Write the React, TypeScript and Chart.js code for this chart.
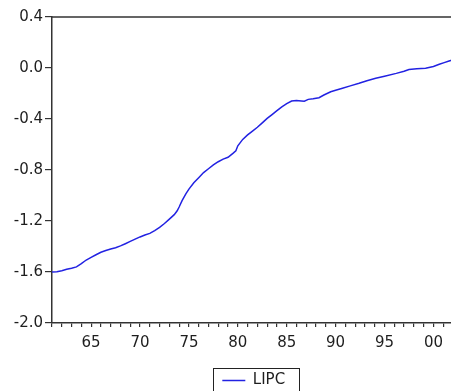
import React, { useEffect, useRef } from 'react';
import { Chart, registerables } from 'chart.js';

Chart.register(...registerables);

// Time (fractional year) of each observation
const years: number[] = [
  1961.0, 1961.5, 1962.0, 1962.5, 1963.0, 1963.5, 1964.0, 1964.5, 1965.0, 1965.5,
  1966.0, 1966.5, 1967.0, 1967.5, 1968.0, 1968.5, 1969.0, 1969.5, 1970.0, 1970.5,
  1971.0, 1971.5, 1972.0, 1972.5, 1973.0, 1973.5, 1973.8, 1974.0, 1974.3, 1974.7,
  1975.0, 1975.5, 1976.0, 1976.5, 1977.0, 1977.5, 1978.0, 1978.5, 1979.0, 1979.5,
  1979.8, 1980.0, 1980.5, 1981.0, 1981.5, 1982.0, 1982.5, 1983.0, 1983.5, 1984.0,
  1984.5, 1985.0, 1985.5, 1986.0, 1986.5, 1986.8, 1987.2, 1987.7, 1988.3, 1988.8,
  1989.5, 1990.0, 1990.7, 1991.5, 1992.4, 1993.2, 1994.1, 1995.0, 1996.2, 1997.0,
  1997.5, 1998.3, 1999.2, 2000.0, 2000.6, 2001.1, 2001.6, 2002.2,
];

// LIPC values
const lipc: number[] = [
  -1.600, -1.598, -1.590, -1.578, -1.570, -1.560, -1.535, -1.506, -1.485, -1.465,
  -1.445, -1.432, -1.420, -1.410, -1.395, -1.378, -1.360, -1.342, -1.325, -1.310,
  -1.297, -1.275, -1.250, -1.220, -1.185, -1.150, -1.120, -1.090, -1.040, -0.985,
  -0.950, -0.900, -0.860, -0.820, -0.790, -0.760, -0.735, -0.715, -0.700, -0.670,
  -0.650, -0.610, -0.560, -0.525, -0.495, -0.465, -0.430, -0.395, -0.365, -0.335,
  -0.305, -0.280, -0.259, -0.255, -0.258, -0.260, -0.246, -0.242, -0.233, -0.212,
  -0.186, -0.175, -0.159, -0.140, -0.120, -0.100, -0.081, -0.065, -0.042, -0.025,
  -0.012, -0.005, -0.002, 0.012, 0.029, 0.042, 0.055, 0.068,
];

const seriesName = 'LIPC';
const yTicks: number[] = [0.4, 0.0, -0.4, -0.8, -1.2, -1.6, -2.0];
const xTickYears: number[] = Array.from({ length: 2002 - 1961 + 1 }, (_, i) => 1961 + i);
const xMin = 1961;
const xMax = 2002.25;

const FONT = 'DejaVu Sans';
const AXIS_COLOR = '#333333';
const TEXT_COLOR = '#1e1e1e';
const LINE_COLOR = 'rgb(34, 34, 226)';

const framePlugin = {
  id: 'evFrame',
  afterDraw(chart: any) {
    const { ctx, chartArea } = chart;
    const { left, right, top, bottom } = chartArea;
    ctx.save();
    ctx.strokeStyle = AXIS_COLOR;
    ctx.lineWidth = 1.5;
    ctx.beginPath();
    ctx.moveTo(left, top);
    ctx.lineTo(right, top);
    ctx.lineTo(right, bottom);
    ctx.stroke();
    const lg = chart.legend;
    if (lg && lg.legendHitBoxes && lg.legendHitBoxes.length) {
      const hb = lg.legendHitBoxes[0];
      ctx.lineWidth = 1;
      ctx.strokeStyle = '#222';
      const l = Math.round(hb.left - 9) + 0.5;
      const t = Math.round(hb.top - 5) + 0.5;
      const r = Math.round(hb.left + hb.width + 14) + 0.5;
      const b = Math.round(hb.top + hb.height + 9) + 0.5;
      ctx.strokeRect(l, t, r - l, b - t);
    }
    ctx.restore();
  },
};

export default function App() {
  const canvasRef = useRef<HTMLCanvasElement | null>(null);

  useEffect(() => {
    document.body.style.margin = '0';
    document.body.style.overflow = 'hidden';
    const canvas = canvasRef.current;
    if (!canvas) return;
    const chart = new Chart(canvas, {
      type: 'line',
      data: {
        datasets: [
          {
            label: seriesName,
            data: years.map((x, i) => ({ x, y: lipc[i] })),
            borderColor: LINE_COLOR,
            backgroundColor: LINE_COLOR,
            borderWidth: 1.5,
            pointRadius: 0,
            tension: 0,
            fill: false,
          },
        ],
      },
      options: {
        animation: false,
        responsive: false,
        maintainAspectRatio: false,
        layout: { padding: { top: 17, left: 0, right: 3, bottom: 0 } },
        plugins: {
          tooltip: { enabled: false },
          legend: {
            display: true,
            position: 'bottom',
            fullSize: false,
            labels: {
              usePointStyle: true,
              pointStyle: 'line',
              pointStyleWidth: 23,
              padding: 14,
              color: TEXT_COLOR,
              font: { family: FONT, size: 15 },
            },
          },
        },
        scales: {
          x: {
            type: 'linear',
            min: xMin,
            max: xMax,
            afterBuildTicks: (s: any) => {
              s.ticks = xTickYears.map((v) => ({ value: v }));
            },
            afterFit: (s: any) => {
              s.height = 36;
            },
            ticks: {
              autoSkip: false,
              maxRotation: 0,
              padding: 7,
              color: TEXT_COLOR,
              font: { family: FONT, size: 15 },
              callback: (v: any) => {
                const n = Math.round(Number(v));
                return n % 5 === 0 ? String(n % 100).padStart(2, '0') : '';
              },
            },
            grid: {
              drawOnChartArea: false,
              drawTicks: true,
              tickLength: 4,
              color: AXIS_COLOR,
              lineWidth: 1.2,
            },
            border: { display: true, color: AXIS_COLOR, width: 1.5 },
          },
          y: {
            type: 'linear',
            min: -2.0,
            max: 0.4,
            afterBuildTicks: (s: any) => {
              s.ticks = yTicks.map((v) => ({ value: v }));
            },
            afterFit: (s: any) => {
              s.width = 52;
            },
            ticks: {
              padding: 2,
              color: TEXT_COLOR,
              font: { family: FONT, size: 15 },
              callback: (v: any) => {
                const n = Number(v);
                return Math.abs(n) < 1e-9 ? '0.0' : n.toFixed(1);
              },
            },
            grid: {
              drawOnChartArea: false,
              drawTicks: true,
              tickLength: 7,
              color: AXIS_COLOR,
              lineWidth: 1.2,
            },
            border: { display: true, color: AXIS_COLOR, width: 1.5 },
          },
        },
      },
      plugins: [framePlugin],
    });
    return () => chart.destroy();
  }, []);

  return (
    <div style={{ position: 'relative', width: 460, height: 398 }}>
      <canvas ref={canvasRef} width={460} height={398} style={{ display: 'block' }} />
    </div>
  );
}
